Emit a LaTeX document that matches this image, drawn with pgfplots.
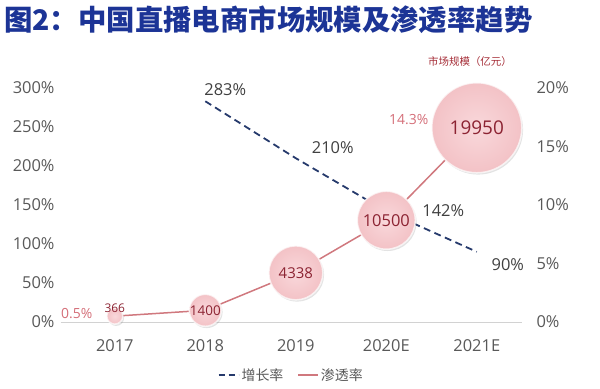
\documentclass[border=0pt]{standalone}
\usepackage{fontspec}
\usepackage{pgfplots}
\pgfplotsset{compat=1.18}
\usepackage{pgfplotstable}
\usetikzlibrary{shadows}
\setmainfont{Open Sans}
\newfontfamily\cjk{Noto Sans CJK SC}
\definecolor{titleblue}{RGB}{28,52,150}
\definecolor{tickgray}{RGB}{89,89,89}
\definecolor{labgray}{RGB}{64,64,64}
\definecolor{navy}{RGB}{38,58,108}
\definecolor{penline}{RGB}{208,120,126}
\definecolor{bubtext}{RGB}{140,35,50}
\definecolor{pinklab}{RGB}{212,110,120}
\definecolor{bubin}{RGB}{249,216,219}
\definecolor{bubout}{RGB}{243,194,198}
\definecolor{unitred}{RGB}{165,45,55}

\pgfplotstableread{
x g dx dy
1 283 20 12
2 210 37 11
3 142 57 1
4 90 31 -13
}\growth

\pgfplotstableread{
x p size lab fs ly
0 0.5 16 366 12 8
1 1.0 32 1400 13.5 0
2 4.2 54 4338 15 0
3 8.7 58 10500 16.5 0
4 16.6 90 19950 19 0
}\pen

\pgfplotstableread{
x p dx dy
0 0.5 -38 3
4 16.6 -68 8
}\penlab

\pgfplotsset{
  base/.style={
    scale only axis,
    width=461.55bp, height=234bp,
    at={(60.5bp,-322bp)}, anchor=south west,
    xmin=-0.6, xmax=4.5,
    ymin=0,
    major tick length=0pt,
    /pgf/number format/assume math mode=true,
    tick label style={font=\fontsize{16.5}{16.5}\selectfont, text=tickgray},
    clip=false,
  }
}

\begin{document}
\begin{tikzpicture}
\useasboundingbox (0,0) rectangle (600bp,-389bp);
\node[anchor=west, text=titleblue, font=\cjk\bfseries\fontsize{28.5}{28.5}\selectfont, inner sep=0pt] at (4bp,-20bp) {图2：中国直播电商市场规模及渗透率趋势};
\node[text=unitred, font=\cjk\fontsize{10.5}{10.5}\selectfont, inner sep=0pt] at (470bp,-62bp) {市场规模（亿元）};

\begin{axis}[base,
  ymax=300,
  axis x line*=bottom, axis y line*=left,
  x axis line style={draw=gray!35, line width=0.8bp},
  y axis line style={draw=none},
  xtick={0,1,2,3,4},
  xticklabels={2017,2018,2019,2020E,2021E},
  xticklabel style={yshift=-14bp},
  ytick={0,50,...,300},
  yticklabel={\pgfmathprintnumber{\tick}\%},
  yticklabel style={xshift=-2.5bp},
]
\addplot[navy, line width=1.8bp, dash pattern=on 7bp off 4.5bp,
  nodes near coords={\pgfmathprintnumber{\pgfplotspointmeta}\%},
  point meta=y,
  visualization depends on={\thisrow{dx}\as\dx},
  visualization depends on={\thisrow{dy}\as\dy},
  nodes near coords style={font=\fontsize{16.5}{16.5}\selectfont, text=labgray, anchor=center, xshift=\dx bp, yshift=\dy bp}]
  table[x=x,y=g]{\growth};
\end{axis}

\begin{axis}[base,
  ymax=20,
  axis x line=none, axis y line*=right,
  y axis line style={draw=none},
  ytick={0,5,...,20},
  yticklabel={\pgfmathprintnumber{\tick}\%},
  yticklabel style={xshift=11bp},
  legend style={draw=none, fill=none, at={(0.5,-0.226)}, anchor=center,
    legend columns=2, font=\cjk\fontsize{14}{14}\selectfont, text=tickgray,
    /tikz/every even column/.append style={column sep=12bp}},
  legend image code/.code={\draw[#1] (0bp,0bp) -- (20bp,0bp);},
]
\addlegendimage{navy, line width=1.8bp, dash pattern=on 6bp off 4bp}
\addlegendentry{增长率}
\addplot[penline, line width=1.5bp, mark=none] table[x=x,y=p]{\pen};
\addlegendentry{渗透率}
\addplot[draw=none, mark=none, forget plot,
  nodes near coords={},
  visualization depends on={\thisrow{size}\as\bsize},
  nodes near coords style={circle, inner sep=0pt, minimum size=\bsize bp, anchor=center,
    inner color=bubin, outer color=bubout, draw=white, draw opacity=0.7, line width=1.5bp,
    drop shadow={shadow xshift=1.3bp, shadow yshift=-1.8bp, opacity=0.22}}]
  table[x=x,y=p]{\pen};
\addplot[draw=none, mark=none, forget plot,
  nodes near coords={\pgfplotspointmeta},
  point meta=explicit symbolic,
  visualization depends on={\thisrow{fs}\as\fs},
  visualization depends on={\thisrow{ly}\as\ly},
  nodes near coords style={font=\fontsize{\fs}{\fs}\selectfont, text=bubtext, anchor=center, yshift=\ly bp}]
  table[x=x,y=p,meta=lab]{\pen};
\addplot[draw=none, mark=none, forget plot,
  nodes near coords={\pgfmathprintnumber{\pgfplotspointmeta}\%},
  point meta=explicit,
  visualization depends on={\thisrow{dx}\as\dx},
  visualization depends on={\thisrow{dy}\as\dy},
  nodes near coords style={font=\fontsize{14}{14}\selectfont, text=pinklab, anchor=center, xshift=\dx bp, yshift=\dy bp}]
  table[x=x,y=p,meta expr={\thisrow{dx}*0+ (\thisrow{x}==0 ? 0.5 : 14.3)}]{\penlab};
\end{axis}
\end{tikzpicture}
\end{document}
